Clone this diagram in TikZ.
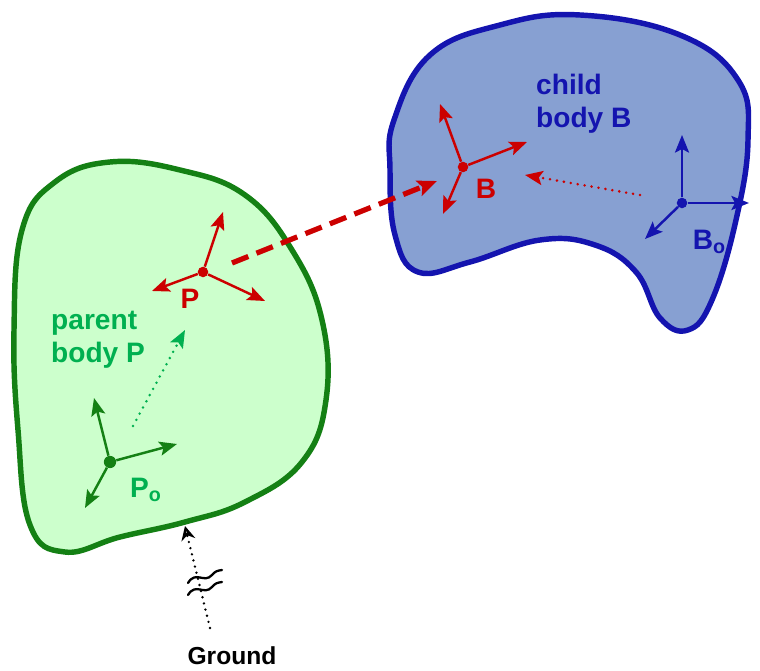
\documentclass[tikz,border=0pt]{standalone}
\usepackage{fontspec}
\setmainfont{Liberation Sans}
\definecolor{bodygreen}{RGB}{204, 255, 204}
\definecolor{edgegreen}{RGB}{20, 128, 20}
\definecolor{textgreen}{RGB}{0, 176, 80}
\definecolor{bodyblue}{RGB}{135, 160, 210}
\definecolor{edgeblue}{RGB}{20, 20, 175}
\definecolor{jointred}{RGB}{204, 0, 0}
\usetikzlibrary{arrows.meta, positioning, calc}

\begin{document}
\begin{tikzpicture}[x=0.02cm, y=-0.02cm]
      \useasboundingbox (0,0) rectangle (760,671);
      % the two bodies
      \draw[line width=3.1pt, edgegreen, fill=bodygreen] plot[smooth cycle, tension=0.7] coordinates {
        (22,230) (55,182) (110,162) (180,170) (245,195) (292,250) (322,320) (326,400) (302,462)
        (245,502) (185,522) (120,537) (65,552) (30,525) (18,430) (14,330)};
      \draw[line width=3.1pt, edgeblue, fill=bodyblue] plot[smooth cycle, tension=0.7] coordinates {
        (394,120) (430,55) (500,25) (580,15) (680,35) (738,80) (748,140) (736,220) (712,300)
        (688,330) (660,318) (636,272) (595,245) (540,240) (470,262) (418,272) (395,235) (390,170)};
      % frame origins
      \node[circle, fill=edgegreen, inner sep=0pt, minimum size=7pt] (po) at (110,462) {};
      \node[circle, fill=jointred, inner sep=0pt, minimum size=6pt] (p) at (203,272) {};
      \node[circle, fill=jointred, inner sep=0pt, minimum size=6pt] (b) at (463,167) {};
      \node[circle, fill=edgeblue, inner sep=0pt, minimum size=6pt] (bo) at (682,203) {};
      \coordinate (pox) at (177,444);
      \coordinate (poy) at (94,398);
      \coordinate (poz) at (85,508);
      \coordinate (px) at (223,212);
      \coordinate (py) at (152,291);
      \coordinate (pz) at (265,301);
      \coordinate (bx) at (527,142);
      \coordinate (by) at (440,104);
      \coordinate (bz) at (443,214);
      \coordinate (box) at (749,203);
      \coordinate (boy) at (682,135);
      \coordinate (boz) at (645,239);
      \draw[-{Stealth[length=10pt, width=8pt, inset=2pt]}, line width=1.4pt, edgegreen] (po) -- (pox);
      \draw[-{Stealth[length=10pt, width=8pt, inset=2pt]}, line width=1.4pt, edgegreen] (po) -- (poy);
      \draw[-{Stealth[length=10pt, width=8pt, inset=2pt]}, line width=1.4pt, edgegreen] (po) -- (poz);
      \draw[-{Stealth[length=10pt, width=8pt, inset=2pt]}, line width=1.4pt, jointred] (p) -- (px);
      \draw[-{Stealth[length=10pt, width=8pt, inset=2pt]}, line width=1.4pt, jointred] (p) -- (py);
      \draw[-{Stealth[length=10pt, width=8pt, inset=2pt]}, line width=1.4pt, jointred] (p) -- (pz);
      \draw[-{Stealth[length=10pt, width=8pt, inset=2pt]}, line width=1.4pt, jointred] (b) -- (bx);
      \draw[-{Stealth[length=10pt, width=8pt, inset=2pt]}, line width=1.4pt, jointred] (b) -- (by);
      \draw[-{Stealth[length=10pt, width=8pt, inset=2pt]}, line width=1.4pt, jointred] (b) -- (bz);
      \draw[-{Stealth[length=10pt, width=8pt, inset=2pt]}, line width=1.4pt, edgeblue] (bo) -- (box);
      \draw[-{Stealth[length=10pt, width=8pt, inset=2pt]}, line width=1.4pt, edgeblue] (bo) -- (boy);
      \draw[-{Stealth[length=10pt, width=8pt, inset=2pt]}, line width=1.4pt, edgeblue] (bo) -- (boz);
      % labels
      \node[font=\fontsize{16}{19}\selectfont\bfseries, textgreen] (polbl) at (146,490) {P\textsubscript{o}};
      \node[font=\fontsize{16}{19}\selectfont\bfseries, jointred] (plbl) at (190,299) {P};
      \node[font=\fontsize{16}{19}\selectfont\bfseries, jointred] (blbl) at (486,189) {B};
      \node[font=\fontsize{16}{19}\selectfont\bfseries, edgeblue, xshift=2pt] (bolbl) at (706,242) {B\textsubscript{o}};
      \node[font=\fontsize{16}{19}\selectfont\bfseries, textgreen, align=left, anchor=north west] (parent) at (45,305) {parent\\body P};
      \node[font=\fontsize{16}{19}\selectfont\bfseries, edgeblue, align=left, anchor=north west] (child) at (530,68) {child\\body B};
      \node[font=\fontsize{14}{17}\selectfont\bfseries] (ground) at (232,656) {Ground};
      % offsets between the frames
      \coordinate (pgs) at (133,426);
      \coordinate (pge) at (185,330);
      \draw[-{Stealth[length=10pt, width=8pt, inset=2pt]}, line width=1.6pt, textgreen, line cap=round, dash pattern=on 0pt off 4pt] (pgs) -- (pge);
      \coordinate (bbs) at (640,195);
      \coordinate (bbe) at (525,175);
      \draw[-{Stealth[length=10pt, width=8pt, inset=2pt]}, line width=1.6pt, jointred, line cap=round, dash pattern=on 0pt off 4pt] (bbs) -- (bbe);
      \coordinate (js) at (232,263);
      \coordinate (je) at (437,181);
      \draw[-{Stealth[length=11pt, width=9pt, inset=2pt]}, line width=3pt, jointred, dash pattern=on 10pt off 5pt] (js) -- (je);
      \coordinate (gs) at (210,628);
      \coordinate (ge) at (185,526);
      \draw[-{Stealth[length=8pt, width=8pt, open]}, line width=1.5pt, line cap=round, dash pattern=on 0pt off 3.6pt] (gs) -- (ge);
      % break marks on the ground connector
      \draw[line width=1.3pt, line cap=round] (188,583) .. controls (196,570) and (204,584) .. (212,575) .. controls (216,571) .. (222,570);
      \draw[line width=1.3pt, line cap=round] (188,595) .. controls (196,582) and (204,596) .. (212,587) .. controls (216,583) .. (222,582);
    \end{tikzpicture}
\end{document}
